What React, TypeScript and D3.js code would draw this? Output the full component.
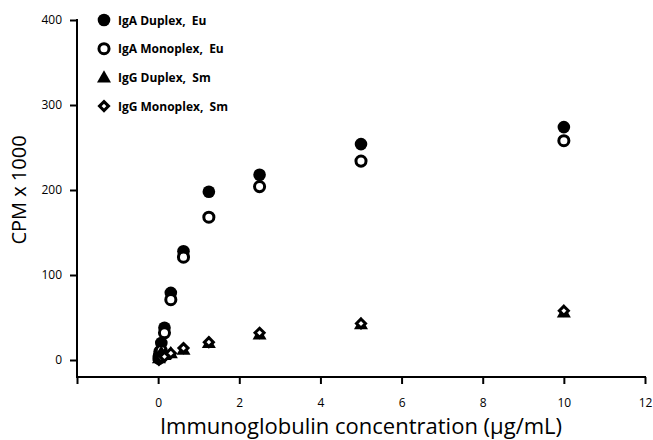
import React, { useEffect, useRef } from "react";
import * as d3 from "d3";

// concentrations (µg/mL), two-fold dilutions
const concentrations = [0.0195, 0.039, 0.078, 0.156, 0.3125, 0.625, 1.25, 2.5, 5, 10];

const igaDuplex = [5, 10, 20, 38, 79, 128, 198, 218, 254, 274];
const igaMonoplex = [2, 5, 11, 32, 71, 121, 168, 204, 234, 258];
const iggDuplex = [2, 5, 9, 6, 8, 12, 20, 30, 42, 56];
const iggMonoplex = [0, 2, 3, 4, 8, 14, 21, 32, 43, 58];

const seriesNames = ["IgA Duplex,  Eu", "IgA Monoplex,  Eu", "IgG Duplex,  Sm", "IgG Monoplex,  Sm"];
const xTicks = [-2, 0, 2, 4, 6, 8, 10, 12];
const yTicks = [0, 100, 200, 300, 400];

const W = 653;
const H = 440;
const FONT = "'Open Sans', sans-serif";

export default function App() {
  const ref = useRef<SVGSVGElement>(null);

  useEffect(() => {
    const svg = d3.select(ref.current);
    svg.selectAll("*").remove();

    const x = d3.scaleLinear().domain([-2, 12]).range([77, 645]);
    const y = d3.scaleLinear().domain([-20, 400]).range([377, 20]);

    // y axis
    const yAxis = svg
      .append("g")
      .attr("transform", `translate(${x(-2)},0)`)
      .call(
        d3
          .axisLeft(y)
          .tickValues(yTicks)
          .tickSize(7)
          .tickSizeOuter(0)
          .tickPadding(8)
      );
    yAxis.select(".domain").attr("stroke-width", 2).attr("d", `M0,${y(400) - 1}V${y(-20)}`);
    yAxis.selectAll(".tick line").attr("stroke-width", 2);
    yAxis
      .selectAll(".tick text")
      .attr("font-family", FONT)
      .attr("font-size", 12)
      .attr("fill", "#000");

    // x axis
    const xAxis = svg
      .append("g")
      .attr("transform", `translate(0,${y(-20)})`)
      .call(
        d3
          .axisBottom(x)
          .tickValues(xTicks)
          .tickSize(7)
          .tickSizeOuter(0)
          .tickPadding(14)
          .tickFormat((d) => (d === -2 ? "" : String(d)))
      );
    xAxis.select(".domain").attr("stroke-width", 2).attr("d", `M${x(-2) - 1},0H${x(12) + 1}`);
    xAxis.selectAll(".tick line").attr("stroke-width", 2);
    xAxis
      .selectAll(".tick text")
      .attr("font-family", FONT)
      .attr("font-size", 12)
      .attr("fill", "#000");

    // axis titles
    svg
      .append("text")
      .attr("transform", `translate(26,${(y(0) + y(400)) / 2}) rotate(-90)`)
      .attr("text-anchor", "middle")
      .attr("font-family", FONT)
      .attr("font-size", 20)
      .text("CPM x 1000");

    svg
      .append("text")
      .attr("x", 361)
      .attr("y", 434)
      .attr("text-anchor", "middle")
      .attr("font-family", FONT)
      .attr("font-size", 22)
      .text("Immunoglobulin concentration (µg/mL)");

    const circle = d3.symbol().type(d3.symbolCircle);
    const triangle = d3.symbol().type(d3.symbolTriangle).size(85);
    const diamond = (s: number) => `M0,${-s}L${s},0L0,${s}L${-s},0Z`;

    const drawMarker = (g: any, kind: number) => {
      if (kind === 0) {
        g.append("path").attr("d", circle.size(125)()).attr("fill", "#000");
      } else if (kind === 1) {
        g.append("path")
          .attr("d", circle.size(80)())
          .attr("fill", "#fff")
          .attr("stroke", "#000")
          .attr("stroke-width", 3);
      } else if (kind === 2) {
        g.append("path").attr("d", triangle()).attr("fill", "#000").attr("transform", "translate(0,1)");
      } else {
        g.append("path")
          .attr("d", diamond(4.5))
          .attr("fill", "#fff")
          .attr("stroke", "#000")
          .attr("stroke-width", 3)
          .attr("stroke-linejoin", "miter");
      }
    };

    const allSeries = [igaDuplex, igaMonoplex, iggDuplex, iggMonoplex];
    allSeries.forEach((vals, k) => {
      const layer = svg.append("g");
      vals.forEach((v, i) => {
        const g = layer
          .append("g")
          .attr("transform", `translate(${x(concentrations[i])},${y(v)})`);
        drawMarker(g, k);
      });
    });

    // legend
    const legend = svg.append("g").attr("transform", "translate(104,20)");
    seriesNames.forEach((name, k) => {
      const row = legend.append("g").attr("transform", `translate(0,${k * 28.7})`);
      drawMarker(row.append("g"), k);
      row
        .append("text")
        .attr("x", 14)
        .attr("y", 4.5)
        .attr("font-family", FONT)
        .attr("font-size", 12)
        .attr("font-weight", "bold")
        .attr("xml:space", "preserve")
        .style("white-space", "pre")
        .text(name);
    });
  }, []);

  return (
    <svg
      ref={ref}
      width={W}
      height={H}
      style={{ position: "absolute", left: 0, top: 0, background: "#fff" }}
    />
  );
}
